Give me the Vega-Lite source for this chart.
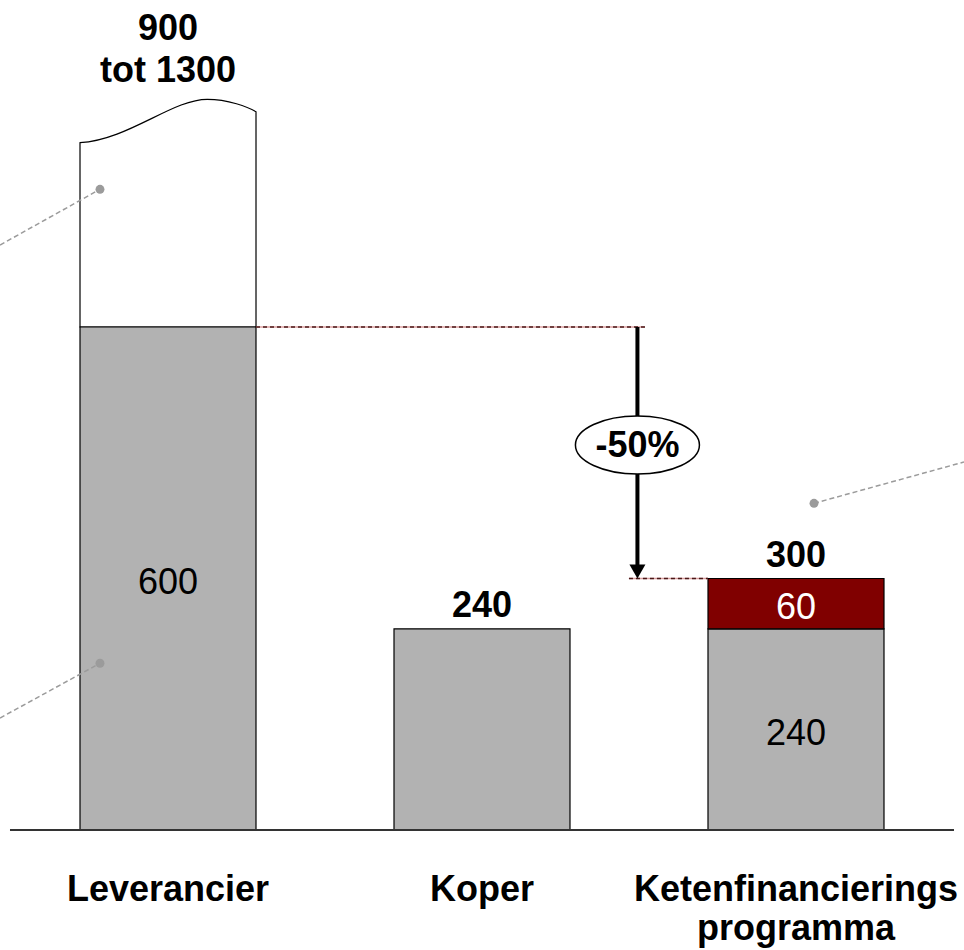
{
  "$schema": "https://vega.github.io/schema/vega-lite/v6.json",
  "width": 964,
  "height": 830,
  "autosize": {"type": "none"},
  "padding": {"left": 0, "right": 0, "top": 0, "bottom": 120},
  "background": "white",
  "config": {"view": {"stroke": null}, "font": "Liberation Sans"},
  "datasets": {
    "bars": [
      {"cat": "Leverancier", "seg": "base", "value": 600, "label": "600"},
      {"cat": "Koper", "seg": "base", "value": 240, "label": ""},
      {"cat": "Ketenfinancierings programma", "seg": "base", "value": 240, "label": "240"},
      {"cat": "Ketenfinancierings programma", "seg": "extra", "value": 60, "label": "60"}
    ],
    "totals": [
      {"cat": "Koper", "total": 240, "label": "240"},
      {"cat": "Ketenfinancierings programma", "total": 300, "label": "300"}
    ],
    "broken": [
      {"cat": "Leverancier", "from": 600, "total": 900, "label": ["900", "tot 1300"]}
    ],
    "guides": [
      {"v": 1.2803, "v2": 2.519, "y": 600},
      {"v": 2.468, "v2": 2.7197, "y": 300}
    ],
    "arrow": [
      {"v": 2.495, "from": 600, "to": 310, "tip": 300}
    ],
    "change": [
      {"v": 2.495, "y": 459.3, "label": "-50%"}
    ],
    "callouts": [
      {"id": "a", "v": 0.7834, "y": 764.3},
      {"id": "a", "v": 0.465, "y": 697.8},
      {"id": "b", "v": 0.7834, "y": 198.9},
      {"id": "b", "v": 0.465, "y": 133.6},
      {"id": "c", "v": 3.0573, "y": 389.7},
      {"id": "c", "v": 3.535, "y": 439.0}
    ],
    "dots": [
      {"v": 0.7834, "y": 764.3},
      {"v": 0.7834, "y": 198.9},
      {"v": 3.0573, "y": 389.7}
    ],
    "baseline": [
      {"v": 0.4968, "v2": 3.5032, "y": 0}
    ]
  },
  "resolve": {"scale": {"x": "independent"}, "axis": {"x": "independent"}},
  "layer": [
    {
      "encoding": {
        "x": {
          "field": "cat",
          "type": "nominal",
          "sort": null,
          "scale": {
            "domain": ["Leverancier", "Koper", "Ketenfinancierings programma"],
            "paddingInner": 0.4395,
            "paddingOuter": 0.2548
          },
          "axis": {
            "title": null,
            "domain": false,
            "ticks": false,
            "grid": false,
            "labelAngle": 0,
            "labelFont": "Liberation Sans",
            "labelFontSize": 36,
            "labelFontWeight": "bold",
            "labelColor": "#000000",
            "labelPadding": 42,
            "labelLineHeight": 39,
            "labelLimit": 0,
            "labelOverlap": false,
            "labelBound": false,
            "labelFlush": false,
            "labelExpr": "split(datum.value, ' ')"
          }
        }
      },
      "layer": [
        {
          "data": {"name": "broken"},
          "mark": {
            "type": "point",
            "shape": "M-0.88,0L-0.88,-1.843C-0.4,-1.87 0.05,-2.28 0.395,-2.277C0.6,-2.277 0.8,-2.2 0.88,-2.153L0.88,0Z",
            "size": 40000,
            "filled": true,
            "fill": "white",
            "stroke": "black",
            "strokeWidth": 1.2,
            "opacity": 1
          },
          "encoding": {
            "y": {"field": "from", "type": "quantitative", "scale": {"domain": [0, 990.1], "nice": false, "zero": false}, "axis": null}
          }
        },
        {
          "data": {"name": "bars"},
          "mark": {"type": "bar", "stroke": "black", "strokeWidth": 1.2},
          "encoding": {
            "y": {"field": "value", "type": "quantitative", "stack": "zero", "scale": {"domain": [0, 990.1], "nice": false, "zero": false}, "axis": null},
            "color": {"field": "seg", "type": "nominal", "scale": {"domain": ["base", "extra"], "range": ["#b2b2b2", "#800000"]}, "legend": null},
            "order": {"field": "seg", "type": "ordinal"}
          }
        },
        {
          "data": {"name": "bars"},
          "mark": {"type": "text", "fontSize": 36, "font": "Liberation Sans", "baseline": "middle", "dy": 4.5},
          "encoding": {
            "y": {"field": "value", "type": "quantitative", "stack": "zero", "bandPosition": 0.5, "axis": null},
            "detail": {"field": "seg", "type": "nominal"},
            "order": {"field": "seg", "type": "ordinal"},
            "text": {"field": "label", "type": "nominal"},
            "color": {"condition": {"test": "datum.seg === 'extra'", "value": "white"}, "value": "black"}
          }
        },
        {
          "data": {"name": "totals"},
          "mark": {"type": "text", "fontSize": 36, "fontWeight": "bold", "font": "Liberation Sans", "baseline": "bottom", "dy": -4, "color": "black"},
          "encoding": {
            "y": {"field": "total", "type": "quantitative", "axis": null},
            "text": {"field": "label", "type": "nominal"}
          }
        },
        {
          "data": {"name": "broken"},
          "mark": {"type": "text", "fontSize": 36, "fontWeight": "bold", "font": "Liberation Sans", "baseline": "bottom", "dy": -28, "lineHeight": 42, "color": "black"},
          "encoding": {
            "y": {"field": "total", "type": "quantitative", "axis": null},
            "text": {"field": "label", "type": "nominal"}
          }
        }
      ]
    },
    {
      "encoding": {
        "x": {"field": "v", "type": "quantitative", "scale": {"domain": [0.46497, 3.53503], "nice": false, "zero": false}, "axis": null}
      },
      "layer": [
        {
          "data": {"name": "guides"},
          "mark": {"type": "rule", "color": "#dca0a0", "strokeWidth": 1.5},
          "encoding": {
            "x2": {"field": "v2"},
            "y": {"field": "y", "type": "quantitative", "scale": {"domain": [0, 990.1], "nice": false, "zero": false}, "axis": null}
          }
        },
        {
          "data": {"name": "guides"},
          "mark": {"type": "rule", "color": "#4a1818", "strokeWidth": 1.5, "strokeDash": [4, 3]},
          "encoding": {
            "x2": {"field": "v2"},
            "y": {"field": "y", "type": "quantitative", "axis": null}
          }
        },
        {
          "data": {"name": "arrow"},
          "mark": {"type": "rule", "color": "black", "strokeWidth": 4},
          "encoding": {
            "y": {"field": "from", "type": "quantitative", "axis": null},
            "y2": {"field": "to"}
          }
        },
        {
          "data": {"name": "arrow"},
          "mark": {"type": "point", "shape": "M-1,-1.75L1,-1.75L0,0Z", "size": 256, "filled": true, "fill": "black", "strokeWidth": 0, "opacity": 1},
          "encoding": {
            "y": {"field": "tip", "type": "quantitative", "axis": null}
          }
        },
        {
          "data": {"name": "change"},
          "mark": {
            "type": "point",
            "shape": "M-1,0C-1,-0.2583 -0.5523,-0.4677 0,-0.4677C0.5523,-0.4677 1,-0.2583 1,0C1,0.2583 0.5523,0.4677 0,0.4677C-0.5523,0.4677 -1,0.2583 -1,0Z",
            "size": 15376,
            "filled": true,
            "fill": "white",
            "stroke": "black",
            "strokeWidth": 1.5,
            "opacity": 1
          },
          "encoding": {
            "y": {"field": "y", "type": "quantitative", "axis": null}
          }
        },
        {
          "data": {"name": "change"},
          "mark": {"type": "text", "fontSize": 36, "fontWeight": "bold", "font": "Liberation Sans", "baseline": "middle", "dy": 1.5, "color": "black"},
          "encoding": {
            "y": {"field": "y", "type": "quantitative", "axis": null},
            "text": {"field": "label", "type": "nominal"}
          }
        },
        {
          "data": {"name": "callouts"},
          "mark": {"type": "line", "color": "#9b9b9b", "strokeWidth": 1.5, "strokeDash": [5, 3]},
          "encoding": {
            "y": {"field": "y", "type": "quantitative", "axis": null},
            "detail": {"field": "id", "type": "nominal"}
          }
        },
        {
          "data": {"name": "dots"},
          "mark": {"type": "point", "shape": "circle", "size": 80, "filled": true, "fill": "#9b9b9b", "strokeWidth": 0, "opacity": 1},
          "encoding": {
            "y": {"field": "y", "type": "quantitative", "axis": null}
          }
        },
        {
          "data": {"name": "baseline"},
          "mark": {"type": "rule", "color": "#333333", "strokeWidth": 2},
          "encoding": {
            "x2": {"field": "v2"},
            "y": {"field": "y", "type": "quantitative", "axis": null}
          }
        }
      ]
    }
  ]
}
